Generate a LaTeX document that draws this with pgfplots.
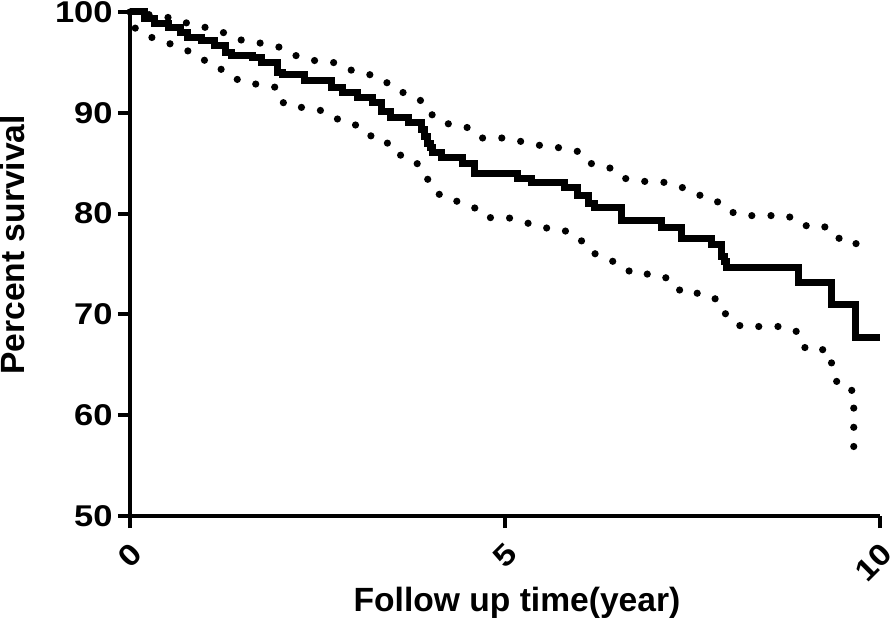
\documentclass[border=0pt]{standalone}
\usepackage{fontspec}
\setmainfont{Liberation Sans}
\newfontfamily\tickfont{Liberation Sans}[FakeStretch=1.15]
\usepackage{pgfplots}
\pgfplotsset{compat=1.18}
\begin{document}
\begin{tikzpicture}
\begin{axis}[
  scale only axis, width=375pt, height=252pt,
  xmin=0, xmax=10, ymin=50, ymax=100,
  axis lines=left, axis line style={-, line width=2pt},
  xtick={0,5,10}, ytick={50,60,...,100},
  tick align=outside, major tick length=6pt,
  tick style={line width=2pt, black},
  /pgf/number format/assume math mode=true,
  ticklabel style={font=\tickfont\bfseries\fontsize{15}{17}\selectfont},
  yticklabel style={inner sep=2.5pt},
  xticklabel style={xshift=6pt, yshift=-8pt, rotate=45, anchor=east},
  xlabel={Follow up time(year)}, ylabel={Percent survival},
  label style={font=\bfseries\fontsize{16.8}{19}\selectfont},
  xlabel style={at={(axis description cs:0.516,-0.19)}, anchor=base},
  ylabel style={at={(axis description cs:-0.14,0.538)}, anchor=base},
  clip=false,
]
% Kaplan-Meier estimate
\addplot[const plot, black, line width=3.5pt, line join=miter] coordinates {
(0,100)(0.20,99.4)(0.33,98.9)(0.51,98.5)(0.67,98.0)(0.77,97.5)(0.96,97.2)(1.13,96.7)
(1.27,96.0)(1.36,95.7)(1.63,95.5)(1.76,95.0)(1.97,94.0)(2.03,93.75)(2.33,93.25)
(2.69,92.5)(2.83,92.0)(3.04,91.5)(3.23,91.0)(3.36,90.1)(3.47,89.5)(3.71,89.0)
(3.89,88.3)(3.93,87.6)(3.97,87.0)(4.01,86.6)(4.04,86.1)(4.16,85.6)(4.43,85.0)
(4.6,84.0)(5.17,83.5)(5.36,83.1)(5.8,82.6)(5.97,81.8)(6.11,81.05)(6.2,80.65)
(6.56,79.3)(7.09,78.6)(7.36,77.5)(7.76,76.9)(7.89,75.7)(7.93,75.2)(7.95,74.7)
(8.91,73.2)(9.36,71.0)(9.67,67.7)(10,67.7)
};
% upper 95% CI
\addplot[black, line width=3.6pt, line cap=round, dash pattern=on 0pt off 9.6pt] coordinates {
(0,100)(0.29,99.7)(0.56,99.4)(0.8,98.8)(1.05,98.4)(1.27,97.9)(1.49,97.2)(1.75,96.9)
(2.0,96.5)(2.2,95.7)(2.44,95.2)(2.71,95.0)(2.91,94.3)(3.15,93.9)(3.37,93.35)
(3.53,92.3)(3.76,91.7)(3.95,90.9)(4.05,89.5)(4.28,88.8)(4.53,88.5)(4.69,87.5)
(5.0,87.5)(5.25,87.1)(5.51,86.7)(5.77,86.5)(6.01,86.1)(6.16,84.9)(6.41,84.5)
(6.59,83.5)(6.85,83.2)(7.12,83.1)(7.36,82.6)(7.56,81.9)(7.8,81.4)(7.96,80.3)
(8.17,79.8)(8.48,79.8)(8.77,79.8)(8.96,78.8)(9.25,78.8)(9.39,77.6)(9.65,77.4)
(9.77,75.9)
};
% lower 95% CI
\addplot[black, line width=3.6pt, line cap=round, dash pattern=on 0pt off 9.6pt] coordinates {
(0.07,98.4)(0.24,97.6)(0.48,97.0)(0.69,96.4)(0.91,95.7)(1.08,94.7)(1.29,94.1)
(1.45,93.2)(1.71,92.8)(1.97,92.5)(2.05,90.9)(2.31,90.5)(2.57,90.2)(2.76,89.4)
(2.99,88.9)(3.16,87.8)(3.4,87.4)(3.51,86.0)(3.75,85.5)(3.91,84.4)(4.0,82.9)
(4.15,81.7)(4.37,81.2)(4.59,80.6)(4.75,79.6)(5.04,79.6)(5.28,79.1)(5.52,78.6)
(5.77,78.4)(5.99,77.6)(6.12,76.3)(6.32,75.6)(6.53,75.0)(6.71,74.0)(7.01,74.0)
(7.23,73.4)(7.36,72.1)(7.65,72.1)(7.87,71.3)(7.96,69.7)(8.15,68.8)(8.44,68.8)
(8.73,68.8)(8.92,68.2)(9.01,66.5)(9.31,66.5)(9.37,64.7)(9.44,62.9)(9.65,62.4)
(9.65,56.6)
};
\end{axis}
\pgfresetboundingbox
\path[use as bounding box] (-65pt,-55.5pt) rectangle (383pt,258pt);
\end{tikzpicture}
\end{document}
